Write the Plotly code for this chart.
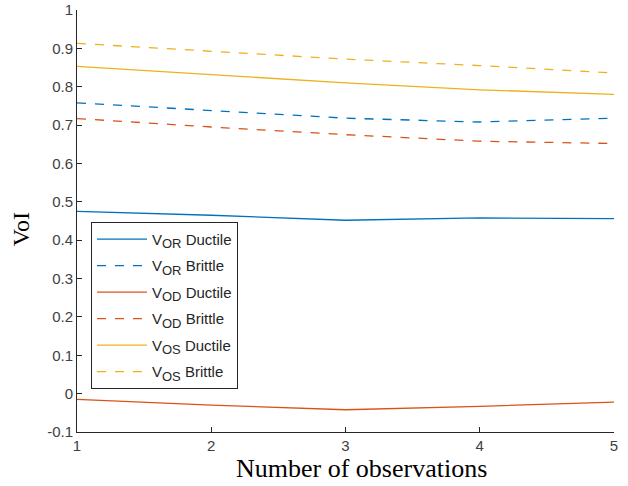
import plotly.graph_objects as go

observations = [1, 2, 3, 4, 5]
vor_ductile = [0.475, 0.465, 0.452, 0.458, 0.456]
vor_brittle = [0.758, 0.738, 0.718, 0.708, 0.718]
vod_ductile = [-0.015, -0.030, -0.042, -0.033, -0.022]
vod_brittle = [0.717, 0.695, 0.675, 0.658, 0.652]
vos_ductile = [0.853, 0.832, 0.810, 0.792, 0.780]
vos_brittle = [0.913, 0.893, 0.872, 0.855, 0.836]

sub_style = "<sub><span style='font-size:13px'>{}</span></sub>"
names = ["V" + sub_style.format("OR") + " Ductile", "V" + sub_style.format("OR") + " Brittle",
         "V" + sub_style.format("OD") + " Ductile", "V" + sub_style.format("OD") + " Brittle",
         "V" + sub_style.format("OS") + " Ductile", "V" + sub_style.format("OS") + " Brittle"]
series = [vor_ductile, vor_brittle, vod_ductile, vod_brittle, vos_ductile, vos_brittle]
colors = ["#0072BD", "#0072BD", "#D95319", "#D95319", "#EDB120", "#EDB120"]
dashes = ["solid", "dash", "solid", "dash", "solid", "dash"]

y_ticks = [-0.1, 0, 0.1, 0.2, 0.3, 0.4, 0.5, 0.6, 0.7, 0.8, 0.9, 1]
y_labels = ["-0.1", "0", "0.1", "0.2", "0.3", "0.4", "0.5", "0.6", "0.7", "0.8", "0.9", "1"]

fig = go.Figure()
for i, (n, s, c, d) in enumerate(zip(names, series, colors, dashes)):
    fig.add_trace(go.Scatter(x=observations, y=s, mode="lines", name=n, legendgroup=f"g{i}",
                             line=dict(color=c, width=1.3, dash=d)))

axis_common = dict(showline=True, linecolor="#262626", linewidth=1, ticks="inside",
                   ticklen=5, tickcolor="#262626", showgrid=False, zeroline=False,
                   automargin=False,
                   tickfont=dict(family="Liberation Sans, Arial", size=15, color="#404040"))

title_font = dict(family="Liberation Serif, Times New Roman", size=26, color="black")

fig.update_layout(
    width=628, height=486,
    margin=dict(l=77, r=14, t=10, b=54),
    plot_bgcolor="white", paper_bgcolor="white",
    xaxis=dict(range=[1, 5], tickvals=observations, ticktext=[str(v) for v in observations],
               **axis_common),
    yaxis=dict(range=[-0.1, 1], tickvals=y_ticks, ticktext=y_labels, **axis_common),
    legend=dict(x=0.026, y=0.498, xanchor="left", yanchor="top",
                bordercolor="#262626", borderwidth=1, bgcolor="white",
                font=dict(family="Liberation Sans, Arial", size=15, color="#262626"),
                tracegroupgap=4, itemwidth=50),
    showlegend=True,
    annotations=[
        dict(text="Number of observations", xref="paper", yref="paper", x=0.529, y=-0.086,
             xanchor="center", yanchor="middle", showarrow=False, font=title_font),
        dict(text="VoI", xref="paper", yref="paper", x=-0.104, y=0.481, textangle=-90,
             xanchor="center", yanchor="middle", showarrow=False,
             font=dict(family="Liberation Serif, Times New Roman", size=24, color="black")),
    ],
)

fig.write_html("out.html", config={"displayModeBar": False},
               post_script="document.body.style.margin='0';")
